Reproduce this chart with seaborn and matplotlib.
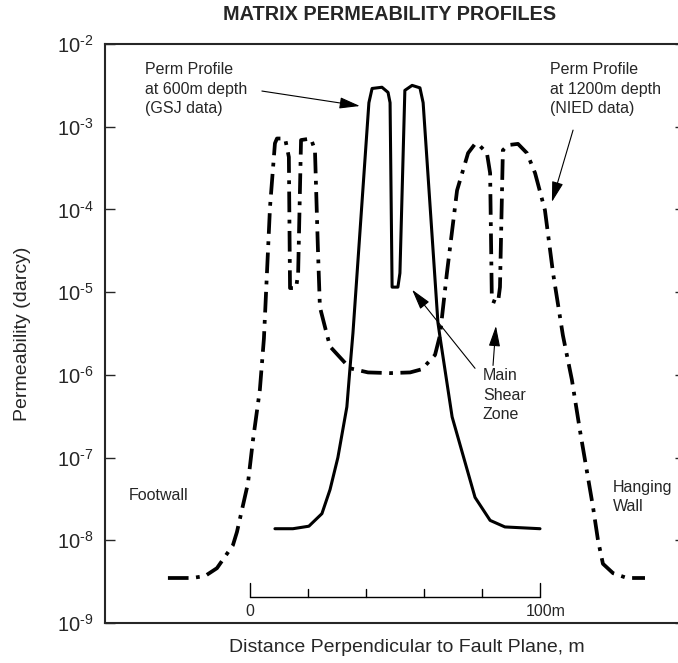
import numpy as np
import matplotlib
matplotlib.use("Agg")
import matplotlib.pyplot as plt
import pandas as pd
import seaborn as sns

# profile at 600 m depth (GSJ data): distance (m), permeability (darcy)
dist_600 = [8.6, 14.8, 20.3, 24.8, 27.6, 30.3, 33.4, 34.5, 35.5, 41.0, 42.1, 45.5,
            47.6, 48.3, 49.0, 51.0, 51.7, 53.4, 55.9, 58.6, 59.7, 64.8, 65.5, 69.7,
            77.6, 82.8, 87.9, 100.0]
perm_600 = [1.38e-8, 1.38e-8, 1.48e-8, 2.1e-8, 4.1e-8, 1.0e-7, 4.1e-7, 1.23e-6, 3.2e-6,
            1.95e-3, 2.9e-3, 3.0e-3, 2.6e-3, 1.95e-3, 1.15e-5, 1.15e-5, 1.7e-5, 2.75e-3,
            3.16e-3, 2.95e-3, 1.95e-3, 4.3e-6, 2.9e-6, 3.1e-7, 3.3e-8, 1.74e-8, 1.45e-8,
            1.38e-8]

# profile at 1200 m depth (NIED data)
dist_1200 = [-28.3, -20.0, -15.5, -11.4, -5.9, -4.5, -0.7, 1.0, 3.4, 4.8, 6.9, 8.6, 9.3,
             12.1, 13.4, 13.8, 15.9, 16.6, 17.6, 21.0, 22.4, 23.4, 24.1, 26.6, 27.6,
             34.5, 40.7, 48.3, 55.2, 59.3, 63.8, 65.5, 67.9, 71.4, 75.2, 77.6, 78.6,
             81.7, 82.8, 83.4, 85.5, 86.2, 87.2, 89.0, 92.4, 95.5, 98.3, 101.7, 104.5,
             107.9, 111.0, 113.8, 118.3, 120.0, 121.7, 125.2, 130.0, 136.2]
perm_1200 = [3.5e-9, 3.5e-9, 3.7e-9, 4.6e-9, 8.7e-9, 1.26e-8, 4.9e-8, 1.6e-7, 6.6e-7,
             2.75e-6, 1.07e-4, 6.3e-4, 7.2e-4, 7.2e-4, 4.3e-4, 1.12e-5, 1.12e-5, 1.7e-5,
             6.9e-4, 7.2e-4, 5.2e-4, 3.5e-5, 6.6e-6, 3.0e-6, 2.2e-6, 1.2e-6, 1.07e-6,
             1.05e-6, 1.07e-6, 1.17e-6, 1.74e-6, 3.0e-6, 1.7e-5, 1.7e-4, 4.8e-4, 6.2e-4,
             6.2e-4, 4.8e-4, 2.75e-4, 7.9e-6, 7.4e-6, 1.15e-5, 5.2e-4, 6.0e-4, 6.2e-4,
             4.8e-4, 2.75e-4, 9.8e-5, 1.7e-5, 3.0e-6, 8.7e-7, 2.1e-7, 2.5e-8, 1.0e-8,
             5.2e-9, 4.0e-9, 3.5e-9, 3.5e-9]

decades = [-9, -8, -7, -6, -5, -4, -3, -2]
scale_ticks = [0, 20, 40, 60, 80, 100]

sns.set_style("ticks")
plt.rcParams['font.family'] = ['Liberation Sans', 'DejaVu Sans']
plt.rcParams['mathtext.fontset'] = 'custom'
plt.rcParams['mathtext.rm'] = 'Liberation Sans'
plt.rcParams['mathtext.it'] = 'Liberation Sans:italic'
plt.rcParams['mathtext.bf'] = 'Liberation Sans:bold'
plt.rcParams['axes.unicode_minus'] = False

fig = plt.figure(figsize=(6.78, 6.63), dpi=100)
ax = fig.add_axes([105 / 678, 1 - 623 / 663, 580 / 678, 579 / 663])

sns.lineplot(x=dist_600, y=perm_600, color="black", lw=2.2, sort=False,
             estimator=None, ax=ax, solid_joinstyle="round")
sns.lineplot(x=dist_1200, y=perm_1200, color="black", lw=2.7, sort=False,
             estimator=None, ax=ax, linestyle=(0, (5.5, 2.0, 1.0, 2.0)))

ax.set_yscale("log")
ax.set_xlim(-50, 150)
ax.set_ylim(1e-9, 1e-2)
ax.set_yticks([10.0 ** d for d in decades])
ax.set_yticklabels([r"$\mathregular{10^{\text{-}%d}}$" % -d for d in decades])
ax.yaxis.set_minor_locator(matplotlib.ticker.NullLocator())
ax.set_xticks([])
ax.tick_params(axis="y", which="both", direction="in", length=7.5, width=1,
               right=True, labelsize=14.5, pad=8)
for s in ax.spines.values():
    s.set_linewidth(1.5)

ax.set_ylabel("Permeability (darcy)", fontsize=14)
ax.yaxis.set_label_coords(-0.128, 0.5)
ax.set_xlabel("Distance Perpendicular to Fault Plane, m", fontsize=14)
ax.xaxis.set_label_coords(0.521, -0.028)
fig.text(390 / 678, 1 - 15 / 663, "MATRIX PERMEABILITY PROFILES",
         ha="center", va="center", fontsize=14.3, fontweight="bold")

# scale bar
tr = ax.get_xaxis_transform()
ax.plot([scale_ticks[0], scale_ticks[-1]], [0.045, 0.045], color="black", lw=1, transform=tr)
for t in scale_ticks:
    top = 0.069 if t in (scale_ticks[0], scale_ticks[-1]) else 0.058
    ax.plot([t, t], [0.045, top], color="black", lw=1, transform=tr)
ax.text(0, 0.019, "0", transform=tr, ha="center", va="center", fontsize=11.5)
ax.text(102, 0.019, "100m", transform=tr, ha="center", va="center", fontsize=11.5)

txt = dict(fontsize=11.5, linespacing=1.35)
ax.text(-36.2, 6.0e-3, "Perm Profile\nat 600m depth\n(GSJ data)", va="top", ha="left", **txt)
ax.text(103.4, 6.0e-3, "Perm Profile\nat 1200m depth\n(NIED data)", va="top", ha="left", **txt)
ax.text(80.3, 1.2e-6, "Main\nShear\nZone", va="top", ha="left", **txt)
ax.text(-41.7, 3.5e-8, "Footwall", va="center", ha="left", **txt)
ax.text(125.2, 3.3e-8, "Hanging\nWall", va="center", ha="left", **txt)

arw = dict(arrowstyle="-|>,head_length=0.9,head_width=0.25", color="black", lw=0.8,
           shrinkA=0, shrinkB=0, mutation_scale=14)
ax.annotate("", xy=(37.9, 1.78e-3), xytext=(4.1, 2.7e-3), arrowprops=arw)
ax.annotate("", xy=(104.1, 1.23e-4), xytext=(111.4, 9.1e-4), arrowprops=arw)
ax.annotate("", xy=(55.9, 1.07e-5), xytext=(77.6, 1.2e-6), arrowprops=arw)
ax.annotate("", xy=(84.8, 3.9e-6), xytext=(83.8, 1.3e-6), arrowprops=arw)

fig.savefig("out.png", dpi=100)
